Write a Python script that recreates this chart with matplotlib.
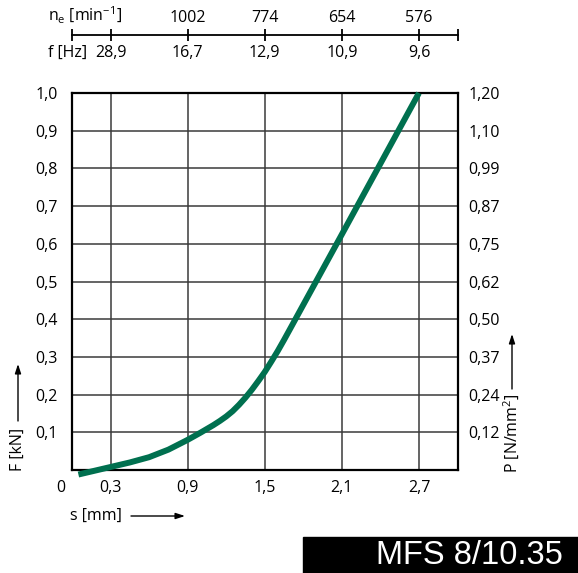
import matplotlib
matplotlib.use("Agg")
import matplotlib.pyplot as plt

# ---- data ----
s_mm = [0.05, 0.15, 0.3, 0.45, 0.6, 0.75, 0.9, 1.0, 1.1, 1.15, 1.2, 1.25, 1.3, 1.35,
        1.4, 1.45, 1.5, 1.55, 1.6, 1.65, 1.7, 2.1, 2.7]
F_kN = [-0.012, -0.004, 0.008, 0.02, 0.034, 0.054, 0.08, 0.099, 0.119, 0.13, 0.142,
        0.156, 0.173, 0.192, 0.213, 0.236, 0.26, 0.287, 0.315, 0.345, 0.376, 0.625, 1.0]

x_ticks = [0.3, 0.9, 1.5, 2.1, 2.7]
x_labels = ["0,3", "0,9", "1,5", "2,1", "2,7"]
y_ticks = [0.1, 0.2, 0.3, 0.4, 0.5, 0.6, 0.7, 0.8, 0.9, 1.0]
y_labels = ["0,1", "0,2", "0,3", "0,4", "0,5", "0,6", "0,7", "0,8", "0,9", "1,0"]
p_labels = ["0,12", "0,24", "0,37", "0,50", "0,62", "0,75", "0,87", "0,99", "1,10", "1,20"]

top_ticks = [0.0, 0.3, 0.9, 1.5, 2.1, 2.7, 3.0]
f_labels = ["", "28,9", "16,7", "12,9", "10,9", "9,6", ""]
ne_labels = ["", "", "1002", "774", "654", "576", ""]

title_box = "MFS 8/10.35"

# ---- style ----
FONT = "Open Sans"
plt.rcParams["font.family"] = [FONT, "DejaVu Sans"]
plt.rcParams["mathtext.fontset"] = "custom"
plt.rcParams["mathtext.rm"] = FONT
plt.rcParams["mathtext.it"] = FONT
FS = 11.5
GREEN = "#00704f"

W, H = 578, 573
fig = plt.figure(figsize=(W / 100, H / 100), dpi=100)

L, R, T, B = 72, 457.5, 93, 470
ax = fig.add_axes([L / W, 1 - B / H, (R - L) / W, (B - T) / H])
ax.set_xlim(0, 3.0)
ax.set_ylim(0, 1.0)
ax.set_xticks(x_ticks)
ax.set_xticklabels(x_labels, fontsize=FS)
ax.set_yticks(y_ticks)
ax.set_yticklabels(y_labels, fontsize=FS)
ax.tick_params(length=0, pad=7)
ax.tick_params(axis="y", pad=10)
ax.grid(True, color="#3a3a3a", lw=1.1)
for sp in ax.spines.values():
    sp.set_linewidth(1.6)
    sp.set_color("black")
ax.set_axisbelow(True)

ax.plot(s_mm, F_kN, color=GREEN, lw=4.3, clip_on=False, solid_capstyle="butt",
        solid_joinstyle="round", zorder=5)

ax.annotate("0", xy=(0, 0), xytext=(-8, -7), textcoords="offset points",
            ha="center", va="top", fontsize=FS)

axr = ax.twinx()
axr.set_ylim(0, 1.0)
axr.set_yticks(y_ticks)
axr.set_yticklabels(p_labels, fontsize=FS)
axr.tick_params(length=0, pad=8)
for sp in axr.spines.values():
    sp.set_visible(False)

# ---- top scale ----
ytop = 34.5
axt = fig.add_axes([L / W, 1 - ytop / H, (R - L) / W, 0.00001])
axt.set_xlim(0, 3.0)
axt.set_ylim(0, 1)
for k in ["top", "left", "right"]:
    axt.spines[k].set_visible(False)
axt.spines["bottom"].set_linewidth(1.3)
axt.set_yticks([])
axt.set_xticks(top_ticks)
axt.set_xticklabels(f_labels, fontsize=FS)
axt.tick_params(axis="x", direction="inout", length=9, width=1.3, pad=3)
axt.patch.set_visible(False)

axt2 = axt.twiny()
axt2.set_xlim(0, 3.0)
axt2.set_xticks(top_ticks)
axt2.set_xticklabels(ne_labels, fontsize=FS)
axt2.tick_params(axis="x", length=0, pad=6)
for sp in axt2.spines.values():
    sp.set_visible(False)

fig.text(48 / W, 1 - 15 / H, r"n$_\mathregular{e}$ [min$^{\mathregular{-1}}$]", fontsize=FS,
         ha="left", va="center")
fig.text(48 / W, 1 - 53 / H, "f [Hz]", fontsize=FS, ha="left", va="center")

# ---- axis captions with arrows ----
fig.text(18 / W, 1 - 449 / H, "F [kN]", fontsize=FS, rotation=90, ha="center", va="center")
fig.text(70 / W, 1 - 516 / H, "s [mm]", fontsize=FS, ha="left", va="center")
fig.text(512 / W, 1 - 433 / H, "P [N/mm$^\\mathregular{2}$]", fontsize=FS, rotation=90,
         ha="center", va="center")

arrow = dict(arrowstyle="-|>,head_length=0.55,head_width=0.18", color="black", lw=1.0,
             shrinkA=0, shrinkB=0)
ax.annotate("", xy=(18, H - 364), xytext=(18, H - 421), xycoords="figure pixels",
            textcoords="figure pixels", arrowprops=arrow)
ax.annotate("", xy=(185, H - 516), xytext=(131, H - 516), xycoords="figure pixels",
            textcoords="figure pixels", arrowprops=arrow)
ax.annotate("", xy=(512, H - 334), xytext=(512, H - 389), xycoords="figure pixels",
            textcoords="figure pixels", arrowprops=arrow)

# ---- black title box ----
fig.patches.append(plt.Rectangle((303 / W, 0), (W - 303) / W, (H - 537) / H,
                                 transform=fig.transFigure, color="black", zorder=0))
fig.text(563 / W, 1 - 555 / H, title_box, fontsize=23.5, color="white",
         family=["Liberation Sans", "DejaVu Sans"], ha="right", va="center")

fig.savefig("out.png", dpi=100)
